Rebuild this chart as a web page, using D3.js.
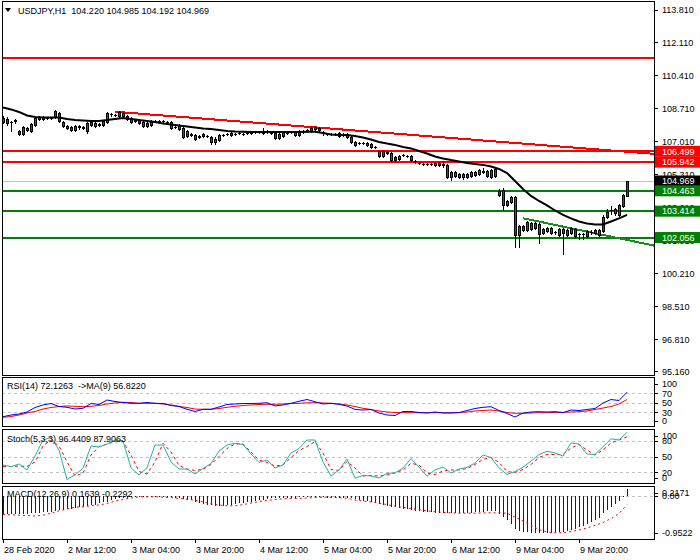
<!DOCTYPE html>
<html><head><meta charset="utf-8">
<script src="https://cdnjs.cloudflare.com/ajax/libs/d3/7.8.5/d3.min.js"></script>
<style>html,body{margin:0;padding:0;background:#fff;} svg{display:block;font-family:"Liberation Sans",Arial,sans-serif;font-size:9px;}</style>
</head><body><svg id="c" width="700" height="560"></svg>
<script>
// ---------------- DATA ----------------
const title = "USDJPY,H1  104.220 104.985 104.192 104.969";
const opens = [108.22,108.17,108.01,108.11,107.55,107.39,107.70,107.55,107.86,108.17,
108.27,108.22,108.22,108.27,108.48,108.01,107.81,107.75,107.60,107.75,
107.75,107.55,108.01,107.96,107.91,107.86,108.01,108.42,108.37,108.32,
108.48,108.32,108.22,108.11,108.11,108.01,107.96,107.86,108.06,108.06,
108.06,108.01,108.01,107.75,107.86,107.70,107.55,107.34,107.14,107.29,
107.39,107.29,107.24,107.14,107.08,107.34,107.39,107.34,107.39,107.44,
107.39,107.44,107.44,107.50,107.50,107.44,107.55,107.44,107.44,107.39,
107.29,107.50,107.50,107.50,107.34,107.55,107.55,107.55,107.65,107.70,
107.50,107.39,107.39,107.39,107.44,107.39,107.39,107.24,106.98,106.93,
106.93,106.93,106.88,106.72,106.52,106.52,106.47,106.41,106.05,106.10,
106.31,106.26,106.26,106.00,105.90,105.85,105.85,105.85,105.90,105.90,
105.85,105.80,105.18,105.23,105.33,105.33,105.18,105.23,105.28,105.33,
105.49,105.49,105.18,105.59,104.25,104.51,103.73,103.89,104.15,102.19,
102.65,102.44,102.81,102.55,102.75,102.29,102.39,102.55,102.34,102.50,
102.29,102.44,102.29,102.50,102.24,102.24,102.13,102.34,102.44,102.19,
102.39,103.11,103.47,103.32,103.22,103.68,104.220];
const highs = [108.32,108.27,108.06,108.17,107.60,107.81,107.75,107.96,108.27,108.32,
108.32,108.27,108.27,108.63,108.53,108.06,107.86,107.81,107.86,107.86,
107.81,108.01,108.06,108.01,107.96,108.11,108.53,108.48,108.42,108.58,
108.53,108.37,108.27,108.17,108.17,108.06,108.01,108.11,108.11,108.11,
108.11,108.06,108.06,107.81,107.91,107.75,107.60,107.44,107.39,107.34,
107.44,107.34,107.29,107.24,107.39,107.39,107.44,107.50,107.44,107.50,
107.44,107.50,107.55,107.55,107.55,107.70,107.60,107.50,107.50,107.44,
107.55,107.55,107.55,107.55,107.60,107.60,107.65,107.81,107.81,107.75,
107.55,107.44,107.44,107.44,107.50,107.44,107.44,107.29,107.03,106.98,
106.98,106.98,106.93,106.77,106.57,106.57,106.52,106.47,106.26,106.31,
106.36,106.31,106.31,106.05,105.95,105.90,105.90,105.90,105.95,105.95,
106.00,105.85,105.49,105.49,105.38,105.38,105.38,105.49,105.49,105.59,
105.64,105.54,105.59,105.64,104.56,104.61,103.99,104.20,104.20,102.70,
102.70,102.91,102.86,102.86,102.81,102.55,102.60,102.60,102.39,102.55,
102.55,102.50,102.60,102.55,102.29,102.29,102.44,102.44,102.50,102.50,
103.22,103.53,103.68,103.58,103.78,104.30,104.985];
const lows = [107.96,107.86,107.55,107.96,107.34,107.34,107.55,107.50,107.81,108.11,
108.11,108.17,108.17,108.22,108.01,107.75,107.65,107.55,107.55,107.65,
107.65,107.44,107.81,107.75,107.81,107.81,107.96,108.32,108.32,108.27,
108.27,108.11,107.96,108.01,107.91,107.75,107.75,107.81,108.01,108.01,
108.01,107.96,107.65,107.70,107.60,107.19,107.24,107.29,107.08,107.19,
107.24,107.24,106.88,106.88,107.03,107.29,107.34,107.29,107.34,107.39,
107.34,107.39,107.39,107.44,107.44,107.39,107.44,107.39,107.14,107.14,
107.24,107.39,107.44,107.29,107.29,107.44,107.50,107.50,107.55,107.55,
107.34,107.34,107.34,107.34,107.24,107.29,107.19,106.93,106.77,106.88,
106.88,106.77,106.67,106.67,106.21,106.21,106.36,106.00,106.00,106.05,
106.26,106.21,106.00,105.90,105.85,105.80,105.80,105.80,105.74,105.74,
105.69,105.12,105.02,105.18,105.12,105.07,105.12,105.18,105.23,105.28,
105.38,105.18,105.12,105.18,104.20,103.48,103.68,103.84,101.57,101.57,
102.39,102.39,102.44,102.50,101.77,102.24,102.34,102.24,102.24,102.13,
101.21,102.13,102.24,102.08,101.98,101.98,102.08,102.24,102.24,102.13,
102.34,103.06,103.27,103.22,103.17,103.63,104.192];
const closes = [108.01,107.96,108.00,108.06,107.39,107.75,107.60,107.91,108.22,108.27,
108.17,108.21,108.23,108.58,108.06,107.81,107.70,107.60,107.81,107.81,
107.70,107.96,107.86,107.81,107.86,108.06,108.48,108.41,108.38,108.53,
108.32,108.17,108.01,108.06,107.96,107.81,107.81,108.06,108.05,108.07,
108.06,108.00,107.70,107.74,107.65,107.24,107.29,107.39,107.34,107.24,
107.29,107.28,106.98,106.98,107.34,107.33,107.38,107.44,107.40,107.45,
107.38,107.43,107.45,107.49,107.51,107.55,107.50,107.45,107.19,107.19,
107.50,107.44,107.49,107.34,107.55,107.50,107.60,107.70,107.75,107.60,
107.44,107.38,107.40,107.38,107.29,107.34,107.24,106.98,106.83,106.92,
106.94,106.83,106.72,106.71,106.26,106.26,106.41,106.05,106.21,106.26,
106.30,106.25,106.05,105.99,105.89,105.84,105.86,105.84,105.80,105.80,
105.80,105.18,105.43,105.43,105.18,105.18,105.33,105.43,105.43,105.54,
105.44,105.23,105.54,105.23,104.45,103.73,103.94,104.15,102.19,102.65,
102.44,102.86,102.50,102.81,102.24,102.50,102.55,102.29,102.33,102.19,
102.50,102.19,102.55,102.13,102.23,102.25,102.39,102.33,102.29,102.44,
103.11,103.37,103.46,103.53,103.73,104.25,104.969];
// moving average, one value every 2 bars
const maLine = [108.76,108.66,108.53,108.35,108.27,108.24,108.24,108.24,108.17,108.11,
108.09,108.06,108.06,108.11,108.17,108.22,108.17,108.11,108.06,108.01,
107.93,107.88,107.83,107.78,107.73,107.68,107.65,107.60,107.55,107.52,
107.51,107.50,107.50,107.50,107.50,107.50,107.50,107.50,107.51,107.51,
107.44,107.37,107.34,107.34,107.29,107.21,107.11,106.98,106.90,106.83,
106.72,106.65,106.52,106.39,106.23,106.13,106.05,105.98,105.90,105.85,
105.80,105.72,105.59,105.38,104.97,104.56,104.20,103.94,103.71,103.45,
103.22,103.04,102.88,102.78,102.73,102.73,102.88,103.04,103.22];
const redLevels = [111.33, 106.499, 105.942];
const greenLevels = [104.463, 103.414, 102.056];
const lastPrice = 104.969;
const redTrend = [[28, 108.54], [162.75, 106.37]];
const greenTrend = [[130, 103.05], [162.75, 101.64]];
const priceTicks = [113.81,112.11,110.41,108.71,107.01,105.31,103.61,101.91,100.21,98.51,96.81,95.16];
const timeLabels = ["28 Feb 2020","2 Mar 12:00","3 Mar 04:00","3 Mar 20:00","4 Mar 12:00","5 Mar 04:00","5 Mar 20:00","6 Mar 12:00","9 Mar 04:00","9 Mar 20:00"];
const timeLabelBars = [0,16,32,48,64,80,96,112,128,144];
// RSI (every 2 bars)
const rsi = [20.6,24.2,26.3,30.5,40,45.3,48.4,42.1,40.4,36.8,
38.3,48.4,46.3,55.8,52.6,50.5,48.8,48.8,50.5,48.8,
48.4,44.2,42.1,36.2,31.6,36.2,36.2,41.1,46.3,47.4,
48.4,48.4,48.8,50.1,43.2,45.3,48.8,53.1,56.8,52.2,
47.4,48.8,46.7,43,36,34.7,35.8,28.4,24.2,23.2,
31.6,31.6,29.5,28.4,30.5,28.4,28.4,29.1,33.7,37.9,
40.4,41.7,33.7,27.4,20,28.4,30.5,31.2,30.5,31.2,
29.1,34.7,33.7,35.8,37.9,49.5,56.8,54.7,72.1];
const rsiMa = [19.4,21,24.2,28.4,31.6,36.8,40,42.1,43.2,42.5,
41.7,42.5,44.2,47.4,49.5,50.9,50.5,48.8,48.8,48.8,
47.4,45.3,42.5,40,36.8,36.2,36.2,37.9,40.4,42.5,
44.2,45.3,46.3,46.7,46.7,47.4,48.4,48.8,49.9,50.1,
49.5,48.8,47.4,45.3,42.1,38.3,35.8,32.6,30.5,29.5,
29.1,29.1,29.1,29.1,29.1,29.1,29.1,29.5,30.5,32.6,
33.7,34.7,32.6,29.5,27.8,27.8,28.4,29.1,29.1,29.5,
29.9,30.5,31.2,32.6,35.8,38.9,42.1,47.4,56.8];
const rsiLevels = [70, 50, 30];
const rsiTicks = [100, 70, 50, 30, 0];
// Stochastic (every 2 bars)
const stochMain = [33.9,30.7,35.8,24.3,51.1,81.8,86.6,62.6,6,14.8,
27.6,70.3,68.4,74.1,81.8,79.9,28.4,14.8,28.4,72.2,
72.2,39.7,26.2,26.2,16.7,27.2,36.8,60.7,72.2,75.5,
73.2,55,38.7,43.5,28.2,33.9,56.9,65.5,81.8,81.8,
39.7,12.8,24.3,45.4,8.4,14.2,12.8,9,18,18.6,
28.2,46.4,30.1,12.3,24.3,30.1,18.6,26.2,29.1,37.7,
53.1,48.3,28.2,15.7,21.5,29.5,41.6,54,60.2,56.9,
51.1,76.1,74.1,55,54,69,84.1,81.8,96.4];
const stochSignal = [30.7,31,32,31,39.7,70.3,81.8,70.3,40.2,12.8,
18,53.1,69,74.1,78.5,78.5,53.1,21.5,16.7,39.7,
75.5,58.8,33,26.2,23.4,25.7,34.9,50.2,65.5,74.1,
74.5,58.8,43.5,38.7,32,33.9,48.3,61.7,69,78.9,
56.9,25.3,23.4,40.6,28.2,12.8,13.8,12.8,14.8,18.6,
24.3,37.2,33.9,18.6,15.7,22.4,24.3,24.3,27.2,34.9,
44.8,48.3,38.7,21.5,19.5,25.3,34.9,48.3,54,54,
54,66.5,73.2,62.6,53.1,62.6,76.1,81.8,87.9];
const stochLevels = [80, 50, 20];
const stochTicks = [100, 80, 50, 20, 0];
// MACD histogram (every bar) and signal (every 2 bars)
const macdMain = [-0.48,-0.48,-0.47,-0.47,-0.47,-0.46,-0.46,-0.45,-0.44,-0.44,
-0.43,-0.42,-0.41,-0.39,-0.38,-0.37,-0.35,-0.33,-0.32,-0.30,
-0.29,-0.27,-0.25,-0.23,-0.20,-0.17,-0.15,-0.11,-0.09,-0.07,
-0.06,-0.05,-0.04,-0.04,-0.03,-0.03,-0.03,-0.03,-0.03,-0.03,
-0.03,-0.03,-0.04,-0.05,-0.06,-0.08,-0.10,-0.12,-0.15,-0.18,
-0.21,-0.23,-0.25,-0.26,-0.26,-0.26,-0.25,-0.24,-0.22,-0.20,
-0.18,-0.16,-0.15,-0.13,-0.12,-0.10,-0.08,-0.07,-0.07,-0.07,
-0.06,-0.06,-0.06,-0.05,-0.04,-0.04,-0.04,-0.03,-0.03,-0.04,
-0.04,-0.05,-0.05,-0.06,-0.06,-0.06,-0.07,-0.07,-0.09,-0.11,
-0.13,-0.14,-0.16,-0.19,-0.22,-0.24,-0.26,-0.28,-0.29,-0.31,
-0.33,-0.35,-0.37,-0.39,-0.40,-0.41,-0.42,-0.43,-0.44,-0.44,
-0.45,-0.45,-0.45,-0.45,-0.45,-0.45,-0.45,-0.44,-0.43,-0.42,
-0.41,-0.40,-0.39,-0.40,-0.47,-0.55,-0.62,-0.73,-0.85,-0.91,
-0.93,-0.94,-0.95,-0.95,-0.95,-0.95,-0.95,-0.95,-0.94,-0.93,
-0.92,-0.90,-0.88,-0.85,-0.81,-0.77,-0.73,-0.68,-0.63,-0.56,
-0.45,-0.37,-0.30,-0.22,-0.14,-0.04,0.1639];
const macdSignal = [-0.48,-0.49,-0.50,-0.51,-0.52,-0.50,-0.45,-0.39,-0.34,-0.30,
-0.28,-0.26,-0.24,-0.20,-0.14,-0.10,-0.06,-0.03,-0.03,-0.03,
-0.04,-0.05,-0.07,-0.09,-0.12,-0.16,-0.21,-0.24,-0.26,-0.26,
-0.23,-0.19,-0.15,-0.12,-0.10,-0.08,-0.07,-0.07,-0.06,-0.05,
-0.04,-0.04,-0.05,-0.07,-0.11,-0.14,-0.16,-0.19,-0.23,-0.27,
-0.30,-0.33,-0.36,-0.39,-0.41,-0.43,-0.44,-0.45,-0.45,-0.45,
-0.44,-0.44,-0.44,-0.45,-0.55,-0.65,-0.76,-0.87,-0.93,-0.95,
-0.95,-0.92,-0.88,-0.83,-0.76,-0.69,-0.59,-0.46,-0.2292];
const macdTicks = [0.2171, 0, -0.9522];
const macdTickText = ["0.2171", "0.00", "-0.9522"];

// ---------------- LAYOUT ----------------
const L = 2, R = 654;
const P = {main:[1,375], rsi:[377,426], stoch:[429,483], macd:[486,539]};
const svg = d3.select("#c");
svg.append("rect").attr("width",700).attr("height",560).attr("fill","#fff");

const x = d3.scaleLinear().domain([0,156]).range([3,627]);
const px = i => x(i) + 0.5;
const y = d3.scaleLinear().domain([95.16,113.81]).range([371.3,9.5]);
const yR = d3.scaleLinear().domain([0,100]).range([426.5,379]);
const yS = d3.scaleLinear().domain([0,100]).range([482.7,430.5]);
const yM = d3.scaleLinear().domain([-0.9522,0.2171]).range([532.8,487.2]);
const snap = v => Math.round(v) + 0.5;
const GREEN = "#008000", RED = "#FF0000";

function clip(id, top, bot){
  svg.append("clipPath").attr("id",id).append("rect").attr("x",L+1).attr("y",top+1).attr("width",R-L-1).attr("height",bot-top-1);
  return svg.append("g").attr("clip-path",`url(#${id})`);
}

// panel frames
Object.values(P).forEach(([t,b])=>{
  svg.append("rect").attr("x",L+0.5).attr("y",t+0.5).attr("width",R-L).attr("height",b-t)
    .attr("fill","none").attr("stroke","#000").attr("stroke-width",1);
});

// ---------- MAIN ----------
const gm = clip("cm", P.main[0], P.main[1]);
// gray last price line
gm.append("line").attr("x1",L).attr("x2",R).attr("y1",snap(y(lastPrice))).attr("y2",snap(y(lastPrice)))
  .attr("stroke","#C0C0C0").attr("stroke-width",1);
redLevels.forEach(v=>{
  gm.append("line").attr("x1",L).attr("x2",R).attr("y1",Math.round(y(v))).attr("y2",Math.round(y(v)))
    .attr("stroke",RED).attr("stroke-width",2);
});
greenLevels.forEach(v=>{
  gm.append("line").attr("x1",L).attr("x2",R).attr("y1",Math.round(y(v))).attr("y2",Math.round(y(v)))
    .attr("stroke",GREEN).attr("stroke-width",2);
});
// trend lines
gm.append("line").attr("x1",x(redTrend[0][0])).attr("y1",y(redTrend[0][1])).attr("x2",x(redTrend[1][0])).attr("y2",y(redTrend[1][1]))
  .attr("stroke",RED).attr("stroke-width",2).attr("shape-rendering","crispEdges");
gm.append("line").attr("x1",x(greenTrend[0][0])).attr("y1",y(greenTrend[0][1])).attr("x2",x(greenTrend[1][0])).attr("y2",y(greenTrend[1][1]))
  .attr("stroke","#1a8a1a").attr("stroke-width",2).attr("shape-rendering","crispEdges");

// candles
const cg = gm.append("g").attr("shape-rendering","crispEdges");
opens.forEach((o,i)=>{
  const c = closes[i], h = highs[i], l = lows[i];
  const xc = x(i);
  cg.append("line").attr("x1",xc+0.5).attr("x2",xc+0.5).attr("y1",Math.round(y(h))).attr("y2",Math.round(y(l))+1)
    .attr("stroke","#000").attr("stroke-width",1);
  const t = Math.round(y(Math.max(o,c))), b = Math.round(y(Math.min(o,c)));
  if (b - t < 1) {
    cg.append("line").attr("x1",xc-1).attr("x2",xc+2).attr("y1",t+0.5).attr("y2",t+0.5).attr("stroke","#000");
  } else {
    cg.append("rect").attr("x",xc-0.5).attr("y",t+0.5).attr("width",2).attr("height",b-t)
      .attr("fill", c>o ? GREEN : RED).attr("stroke","#000").attr("stroke-width",1);
  }
});
// moving average
gm.append("path").datum(maLine)
  .attr("d", d3.line().x((d,k)=>x(k*2)).y(d=>y(d)))
  .attr("fill","none").attr("stroke","#000").attr("stroke-width",2);

// title
svg.append("path").attr("d","M5,8 L11,8 L8,12 Z").attr("fill","#000");
svg.append("text").attr("x",18).attr("y",13.5).attr("xml:space","preserve").style("white-space","pre").text(title);

// price axis
priceTicks.forEach(v=>{
  const yy = snap(y(v));
  svg.append("line").attr("x1",R).attr("x2",R+4).attr("y1",yy).attr("y2",yy).attr("stroke","#000");
  svg.append("text").attr("x",662).attr("y",y(v)+3.3).text(v.toFixed(3));
});
function tag(v, bg){
  const yy = y(v);
  svg.append("rect").attr("x",655).attr("y",yy-5.5).attr("width",45).attr("height",11).attr("fill",bg);
  svg.append("text").attr("x",662).attr("y",yy+3.3).attr("fill","#fff").text(v.toFixed(3));
}
redLevels.slice(1).forEach(v=>tag(v,RED));
tag(lastPrice,"#000");
greenLevels.forEach(v=>tag(v,GREEN));

// ---------- sub panels ----------
function levels(g, vals, sc){
  vals.forEach(v=>{
    g.append("line").attr("x1",L).attr("x2",R).attr("y1",snap(sc(v))).attr("y2",snap(sc(v)))
      .attr("stroke","#C0C0C0").attr("stroke-dasharray","3,3");
  });
}
function axisLabels(vals, texts, sc, top, bot){
  vals.forEach((v,k)=>{
    let yy = Math.max(top+7, Math.min(bot-5.5, sc(v)));
    svg.append("line").attr("x1",R).attr("x2",R+4).attr("y1",snap(yy)).attr("y2",snap(yy)).attr("stroke","#000");
    svg.append("text").attr("x",662).attr("y",yy+3.3).text(texts[k]);
  });
}
const line2 = sc => d3.line().x((d,k)=>x(k*2)).y(d=>sc(d));

// RSI
const gr = clip("cr", P.rsi[0], P.rsi[1]);
levels(gr, rsiLevels, yR);
gr.append("path").datum(rsiMa).attr("d",line2(yR)).attr("fill","none").attr("stroke",RED).attr("stroke-width",1);
gr.append("path").datum(rsi).attr("d",line2(yR)).attr("fill","none").attr("stroke","#0000FF").attr("stroke-width",1);
svg.append("text").attr("x",7).attr("y",389.3).attr("xml:space","preserve").style("white-space","pre").text("RSI(14) 72.1263  ->MA(9) 56.8220");
axisLabels(rsiTicks, rsiTicks.map(String), yR, P.rsi[0], P.rsi[1]);

// Stoch
const gs = clip("cs", P.stoch[0], P.stoch[1]);
levels(gs, stochLevels, yS);
gs.append("path").datum(stochSignal).attr("d",line2(yS)).attr("fill","none").attr("stroke",RED).attr("stroke-width",1).attr("stroke-dasharray","3,3");
gs.append("path").datum(stochMain).attr("d",line2(yS)).attr("fill","none").attr("stroke","#20B2AA").attr("stroke-width",1);
svg.append("text").attr("x",7).attr("y",441.5).text("Stoch(5,3,3) 96.4409 87.9063");
axisLabels(stochTicks, stochTicks.map(String), yS, P.stoch[0], P.stoch[1]);

// MACD
const gd = clip("cd", P.macd[0], P.macd[1]);
levels(gd, [0], yM);
const hg = gd.append("g").attr("shape-rendering","crispEdges");
macdMain.forEach((v,i)=>{
  hg.append("line").attr("x1",px(i)).attr("x2",px(i)).attr("y1",yM(0)).attr("y2",yM(v)).attr("stroke","#0000FF").attr("stroke-width",1);
});
gd.append("path").datum(macdSignal).attr("d",line2(yM)).attr("fill","none").attr("stroke",RED).attr("stroke-width",1).attr("stroke-dasharray","2,3");
svg.append("text").attr("x",7).attr("y",497.3).text("MACD(12,26,9) 0.1639 -0.2292");
axisLabels(macdTicks, macdTickText, yM, P.macd[0], P.macd[1]);

// time axis
timeLabelBars.forEach((b,k)=>{
  svg.append("line").attr("x1",px(b)).attr("x2",px(b)).attr("y1",P.macd[1]).attr("y2",P.macd[1]+4).attr("stroke","#000");
  svg.append("text").attr("x",x(b)+1).attr("y",552.5).text(timeLabels[k]);
});
</script></body></html>
